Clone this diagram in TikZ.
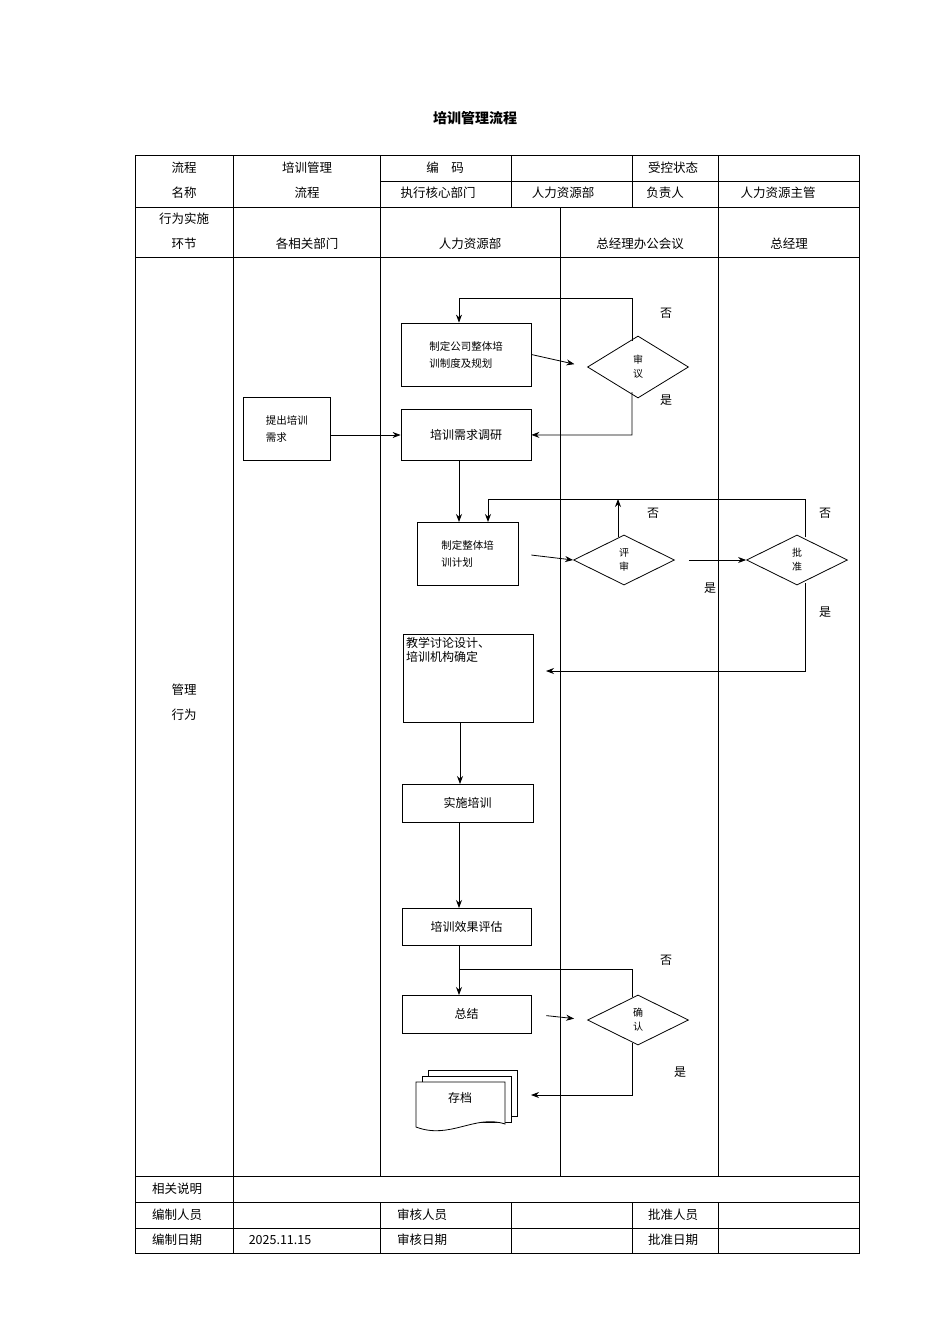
\documentclass[tikz,border=0pt]{standalone}
\usepackage{fontspec}
\setmainfont{Liberation Serif}
\newfontfamily\cjk{Noto Sans CJK SC}
\usetikzlibrary{shapes.geometric,arrows.meta,positioning}
\tikzset{
  cell/.style={font=\cjk\fontsize{12.5}{14}\selectfont},
  box/.style={draw,thick,font=\cjk\fontsize{12}{15}\selectfont,inner sep=3pt},
  sbox/.style={box,font=\cjk\fontsize{10.5}{17}\selectfont,align=left},
  dec/.style={draw,diamond,thick,minimum width=101pt,minimum height=62pt,inner sep=0pt,
              font=\cjk\fontsize{10}{14}\selectfont,align=center},
  yn/.style={font=\cjk\fontsize{12}{14}\selectfont},
  flow/.style={thick,-{Stealth[length=8pt,width=6pt]}},
}
\begin{document}
\begin{tikzpicture}[x=1pt,y=-1pt]
    \useasboundingbox (0,0) rectangle (950,1344);
    \node[font=\cjk\bfseries\fontsize{14}{16}\selectfont] (title) at (475,118) {培训管理流程};
    % table frame
    \draw (135,155) rectangle (859,1253);
    \draw (380,181) -- (859,181);
    \foreach \y in {207,257,1176,1202,1228} \draw (135,\y) -- (859,\y);
    \foreach \x in {233,380,511,632,718} \draw (\x,155) -- (\x,207);
    \foreach \x in {233,380,560,718} \draw (\x,207) -- (\x,1176);
    \draw (233,1176) -- (233,1253);
    \foreach \x in {380,511,632,718} \draw (\x,1202) -- (\x,1253);
    % table texts
    \node[cell] (t1) at (184,168) {流程};
    \node[cell] (t2) at (184,193) {名称};
    \node[cell] (t3) at (307,168) {培训管理};
    \node[cell] (t4) at (307,193) {流程};
    \node[cell] (t5) at (445,168) {编\quad 码};
    \node[cell] (t6) at (673,168) {受控状态};
    \node[cell] (t7) at (438,193) {执行核心部门};
    \node[cell] (t8) at (563,193) {人力资源部};
    \node[cell] (t9) at (665,193) {负责人};
    \node[cell] (t10) at (778,193) {人力资源主管};
    \node[cell] (h1) at (184,219) {行为实施};
    \node[cell] (h2) at (184,244) {环节};
    \node[cell] (h3) at (307,244) {各相关部门};
    \node[cell] (h4) at (470,244) {人力资源部};
    \node[cell] (h5) at (640,244) {总经理办公会议};
    \node[cell] (h6) at (789,244) {总经理};
    \node[cell] (m1) at (184,690) {管理};
    \node[cell] (m2) at (184,715) {行为};
    \node[cell] (f1) at (177,1189) {相关说明};
    \node[cell] (f2) at (177,1215) {编制人员};
    \node[cell] (f3) at (422,1215) {审核人员};
    \node[cell] (f4) at (673,1215) {批准人员};
    \node[cell] (f5) at (177,1240) {编制日期};
    \node[cell] (f6) at (280,1240) {2025.11.15};
    \node[cell] (f7) at (422,1240) {审核日期};
    \node[cell] (f8) at (673,1240) {批准日期};
    % flow nodes
    \node[sbox,minimum width=130pt,minimum height=63pt] (b1) at (466,354.5) {制定公司整体培\\训制度及规划};
    \node[sbox,minimum width=87pt,minimum height=63pt,anchor=north west] (b0) at (243,397) {提出培训\\需求};
    \node[box,minimum width=130pt,minimum height=51pt,anchor=north,inner sep=5pt] (b2) at (466,409) {培训需求调研\\[16pt]};
    \node[sbox,minimum width=101pt,minimum height=63pt] (b3) at (467.5,553.5) {制定整体培\\训计划};
    \node[box,minimum width=130pt,minimum height=88pt,
          label={[font=\cjk\fontsize{12}{14}\selectfont,align=left,anchor=north west]north west:教学讨论设计、\\培训机构确定}] (b4) at (468,678) {};
    \node[box,minimum width=131pt,minimum height=38pt] (b5) at (467.5,803) {实施培训};
    \node[box,minimum width=129pt,minimum height=37pt] (b6) at (466.5,926.5) {培训效果评估};
    \node[box,minimum width=129pt,minimum height=38pt] (b7) at (466.5,1014) {总结};
    \node[dec] (d1) at (638,367) {审\\议};
    \node[dec,minimum height=50pt] (d2) at (624,560) {评\\审};
    \node[dec,minimum height=50pt] (d3) at (797,560) {批\\准};
    \node[dec,minimum height=50pt] (d4) at (638,1020) {确\\认};
    % archive (multi-document)
    \draw[thick,fill=white] (428,1070) rectangle (517,1116);
    \draw[thick,fill=white] (422,1076) rectangle (511,1122);
    \draw[thick,fill=white] (416,1082) -- (505,1082) -- (505,1124)
        .. controls (475,1114) and (450,1140) .. (416,1127) -- cycle;
    \node[font=\cjk\fontsize{12}{14}\selectfont] (b8) at (460,1098) {存档};
    \coordinate (b8e) at (531,1095);
    % yes / no
    \node[yn] (n1) at (666,313) {否};
    \node[yn] (y1) at (666,400) {是};
    \node[yn] (n2) at (653,513) {否};
    \node[yn] (y2) at (710,588) {是};
    \node[yn] (n3) at (825,513) {否};
    \node[yn] (y3) at (825,612) {是};
    \node[yn] (n4) at (666,960) {否};
    \node[yn] (y4) at (680,1072) {是};
    % connectors
    \draw[flow,shorten >=13pt] (b1.east) -- (d1.west);
    \draw[flow] (632,341) -- (632,298) -- (459,298) -- (b1.north -| 459,0);
    \draw[flow] (632,392) -- (632,435) -- (b2.east);
    \draw[flow] (b0.east |- 0,435) -- (b2.west |- 0,435);
    \draw[flow] (459,460) -- (459,522);
    \draw[flow,shorten <=13pt] (b3.east) -- (d2.west);
    \draw[flow] (618,537) -- (618,499);
    \draw[thick] (805,537) -- (805,499) -- (488,499);
    \draw[flow] (488,499) -- (488,522);
    \draw[flow,shorten <=14pt] (d2.east) -- (d3.west);
    \draw[flow] (805,583) -- (805,671) -- (546,671);
    \draw[flow] (460,722) -- (460,784);
    \draw[flow] (459,822) -- (459,908);
    \draw[flow] (459,945) -- (459,995);
    \draw[thick] (459,969) -- (632,969) -- (632,997);
    \draw[flow,shorten <=15pt,shorten >=13pt] (b7.east) -- (d4.west);
    \draw[flow] (632,1043) -- (632,1095) -- (b8e);
\end{tikzpicture}
\end{document}
